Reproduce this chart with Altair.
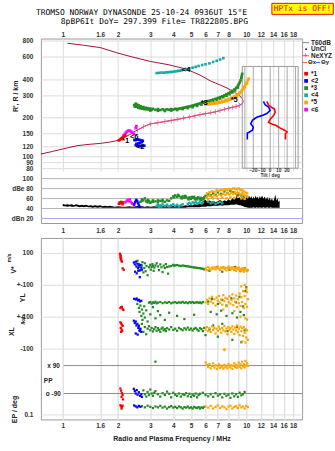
import altair as alt
import pandas as pd

# ================= tick / grid values =================
freq_labels = [1, 1.6, 2, 3, 4, 5, 6, 7, 8, 10, 12, 14, 16, 18]
freq_grid = [1, 1.6, 2, 3, 4, 5, 6, 7, 8, 9, 10, 12, 14, 16, 18]
height_ticks = [80, 90, 100, 120, 150, 200, 300, 400, 600, 800]
dbe_ticks = [20, 40, 60, 80, 100]
tilt_labels = [-20, -10, 0, 10, 20]
tilt_grid = [-30, -20, -10, 0, 10, 20, 30]
bottom_ticks = [500, 400, 300, 200, 100, 0, -100, -462.5, -512.5]
bottom_tick_text = ['100', '0', '+-100', '0', '+-100', '0', '-100', '10.', '0.1']

series_keys = ['1', '2', '3', '4', '5', '6']
series_names = ['*1', '<2', '*3', '<4', '*5', '<6']
series_colors = ['#ff0000', '#0000ff', '#228b22', '#1aa9a9', '#ffa500', '#ff00ff']

# ================= top panel: R' (km) vs frequency (MHz) =================
profile = [(0.76, 104), (0.88, 109), (1.0, 114), (1.2, 121), (1.4, 124), (1.6, 126), (1.8, 129),
           (2.0, 133), (2.1, 137), (2.2, 142), (2.3, 147), (2.4, 152), (2.5, 158), (2.65, 165),
           (2.8, 172), (3.0, 179), (3.6, 187), (4.2, 194), (4.9, 203), (5.6, 212), (6.3, 218),
           (7.0, 225), (8.0, 238), (8.6, 243), (9.2, 250), (9.5, 258), (9.62, 269), (9.5, 283),
           (9.2, 298), (8.6, 318), (7.86, 342), (7.0, 368), (6.36, 390), (5.6, 432), (4.7, 482),
           (3.8, 520), (3.0, 553), (2.44, 595), (2.0, 642), (1.6, 710), (1.3, 740), (1.06, 768)]
nexyz = [(2.55, 160), (2.75, 170), (3.0, 179), (3.3, 183), (3.6, 187), (3.9, 190), (4.2, 194),
         (4.55, 199), (4.9, 203), (5.25, 207), (5.6, 212), (6.0, 215), (6.4, 219), (6.8, 223),
         (7.2, 228), (7.6, 233), (8.0, 238), (8.4, 241), (8.8, 245), (9.2, 250)]
echo1 = [(2.02, 133), (2.05, 135), (2.08, 137), (2.1, 139), (2.13, 141), (2.16, 143), (2.19, 145)]
echo2 = [(2.46, 134), (2.5, 134), (2.54, 135), (2.58, 135), (2.63, 134), (2.68, 133), (2.73, 132),
         (2.7, 129), (2.64, 127), (2.58, 126), (2.52, 125), (2.5, 122), (2.55, 121), (2.61, 120),
         (2.67, 120), (2.73, 120), (2.78, 121)]
echo3 = [(2.45, 252), (2.47, 245), (2.5, 258), (2.52, 244), (2.55, 253), (2.58, 240), (2.6, 250),
         (2.63, 238), (2.66, 246), (2.7, 236), (2.74, 243), (2.78, 234), (2.82, 240), (2.86, 233),
         (2.9, 238), (2.95, 232), (3.0, 236), (3.05, 231), (3.1, 235), (3.2, 231), (3.3, 234),
         (3.4, 230), (3.5, 233), (3.6, 230), (3.7, 233), (3.8, 231), (3.9, 234), (4.0, 232),
         (4.1, 235), (4.2, 234), (4.3, 236), (4.4, 237), (4.5, 239), (4.6, 240), (4.7, 242),
         (4.8, 244), (4.9, 245), (5.0, 247), (5.1, 249), (5.2, 251), (5.3, 253), (5.4, 255),
         (5.5, 257), (5.6, 259), (5.7, 261), (5.8, 263), (5.9, 265), (6.0, 267), (6.2, 271),
         (6.4, 274), (6.6, 278), (6.8, 282), (7.0, 286), (7.2, 290), (7.4, 295), (7.6, 300),
         (7.8, 306), (8.0, 312), (8.2, 318), (8.4, 325), (8.6, 333), (8.8, 343), (9.0, 356),
         (9.1, 366), (9.2, 378), (9.3, 392), (9.4, 410), (9.45, 425), (9.5, 442),
         (3.0, 228), (3.3, 227), (3.6, 226), (3.9, 228), (4.2, 230), (4.5, 234), (4.8, 238),
         (5.1, 242), (5.4, 248), (5.7, 254), (6.0, 260), (6.3, 265), (6.6, 271), (6.9, 276),
         (7.2, 283), (7.5, 290), (7.8, 298), (8.1, 306), (8.4, 316), (8.7, 328), (9.0, 345)]
echo4 = [(3.25, 448), (3.35, 450), (3.45, 452), (3.55, 451), (3.65, 454), (3.75, 455), (3.85, 457),
         (3.95, 458), (4.05, 461), (4.15, 463), (4.25, 466), (4.35, 468), (4.45, 472), (4.6, 477),
         (4.75, 482), (4.9, 488), (5.1, 494), (5.3, 501), (5.5, 509), (5.75, 518), (6.0, 525),
         (6.3, 534), (6.6, 548), (6.9, 560), (7.2, 572), (7.5, 586)]
echo5 = [(6.0, 254), (6.15, 255), (6.3, 256), (6.45, 257), (6.6, 258), (6.75, 259), (6.9, 260),
         (7.05, 262), (7.2, 263), (7.35, 265), (7.5, 267), (7.65, 269), (7.8, 271), (7.95, 274),
         (8.1, 277), (8.25, 280), (8.4, 283), (8.55, 287), (8.7, 291), (8.85, 296), (9.0, 302),
         (9.15, 309), (9.3, 317), (9.45, 326), (9.6, 337), (9.75, 350), (9.9, 364), (10.05, 379),
         (10.2, 394), (10.3, 405),
         (6.2, 260), (6.5, 262), (6.8, 265), (7.1, 268), (7.4, 272), (7.7, 276), (8.0, 281),
         (8.3, 287), (8.6, 294), (8.9, 303), (9.2, 315), (9.5, 330), (9.8, 348), (10.1, 372)]
echo6 = [(2.15, 146), (2.18, 149), (2.21, 153), (2.24, 156), (2.27, 158), (2.3, 159), (2.33, 158),
         (2.36, 156), (2.4, 153), (2.44, 150), (2.5, 166), (2.52, 172)]
trace_labels = [(2.2, 132, '*1'), (2.64, 119, '<2'), (5.9, 260, '*3'), (4.7, 470, '<4'),
                (8.6, 275, '*5'), (2.45, 141, '<6')]

# tilt inset: tilt (deg) vs height (km)
tilt_x = [(-4, 269), (-2, 253), (1, 243), (5, 234), (6, 221), (4, 208), (0, 195), (-2, 184),
          (2, 179), (7, 174), (12, 166), (17, 160), (20, 155), (18, 150), (18, 135)]
tilt_y = [(-8, 269), (-6, 253), (-2, 243), (0, 229), (-4, 216), (-10, 208), (-16, 202), (-21, 191),
          (-23, 180), (-20, 169), (-21, 160), (-25, 154), (-27, 152), (-27, 135)]

# ================= amplitude panel (dB) =================
noise = [(1.00, 44, 49), (1.03, 44, 47), (1.06, 43, 48), (1.09, 44, 47), (1.12, 43, 48), (1.15, 43, 46),
         (1.18, 44, 48), (1.21, 43, 47), (1.24, 42, 46), (1.27, 43, 47), (1.30, 42, 46), (1.34, 43, 47),
         (1.38, 42, 45), (1.42, 42, 46), (1.46, 41, 45), (1.50, 42, 46), (1.55, 41, 45), (1.60, 42, 46),
         (1.65, 41, 44), (1.70, 41, 45), (1.75, 41, 44), (1.80, 41, 45), (1.86, 41, 44), (1.92, 41, 43),
         (2.00, 41, 44), (2.10, 41, 43), (2.20, 41, 43), (2.30, 41, 44), (2.40, 41, 43), (2.50, 41, 44),
         (2.60, 41, 45), (2.70, 41, 44), (2.80, 41, 43), (2.90, 41, 44), (3.00, 41, 43), (3.15, 41, 44),
         (3.30, 41, 43), (3.45, 41, 44), (3.60, 41, 45), (3.75, 41, 43), (3.90, 41, 44), (4.05, 41, 45),
         (4.20, 41, 44), (4.35, 41, 45), (4.50, 41, 44), (4.65, 41, 46), (4.80, 42, 45), (4.95, 42, 47),
         (5.10, 42, 46), (5.25, 42, 48), (5.40, 42, 47), (5.55, 42, 49), (5.70, 43, 48), (5.85, 43, 55),
         (6.00, 43, 57), (6.15, 44, 52), (6.30, 44, 56), (6.45, 44, 53), (6.60, 45, 55), (6.80, 45, 52),
         (7.00, 45, 54), (7.20, 46, 57), (7.40, 45, 53), (7.60, 46, 56), (7.80, 46, 54), (8.00, 46, 58),
         (8.20, 47, 55), (8.40, 47, 60), (8.60, 47, 57), (8.80, 48, 62), (9.00, 47, 75), (9.15, 46, 62),
         (9.30, 46, 60), (9.45, 45, 64), (9.60, 44, 58), (9.75, 43, 66), (9.90, 42, 59), (10.05, 42, 65),
         (10.20, 41, 58), (10.35, 41, 66), (10.50, 41, 60), (10.65, 41, 65), (10.80, 41, 58),
         (10.95, 42, 64), (11.10, 41, 59), (11.25, 41, 66), (11.40, 42, 60), (11.55, 41, 64),
         (11.70, 41, 58), (11.85, 42, 65), (12.00, 41, 60), (12.20, 41, 66), (12.40, 42, 59),
         (12.60, 41, 64), (12.80, 41, 57), (13.00, 42, 63), (13.20, 41, 56), (13.40, 41, 62),
         (13.60, 42, 55), (13.80, 41, 60), (14.00, 41, 54), (14.20, 41, 58), (14.40, 41, 68),
         (14.60, 41, 55), (14.80, 41, 60), (15.00, 41, 52), (15.20, 41, 56)]
amp1 = [(2.02, 49), (2.04, 52), (2.06, 50), (2.08, 53), (2.1, 51), (2.12, 48), (2.14, 52)]
amp2 = [(2.45, 48), (2.48, 52), (2.5, 55), (2.52, 57), (2.55, 54), (2.58, 50), (2.6, 46), (2.62, 43)]
amp3 = [(2.65, 53), (2.7, 58), (2.75, 56), (2.8, 60), (2.85, 54), (2.9, 52), (2.95, 55), (3.0, 51),
        (3.05, 53), (3.1, 56), (3.2, 54), (3.3, 52), (3.4, 55), (3.5, 57), (3.6, 53), (3.7, 56),
        (3.8, 55), (3.9, 60), (4.0, 64), (4.1, 66), (4.2, 63), (4.3, 65), (4.4, 62), (4.5, 64),
        (4.6, 61), (4.7, 63), (4.8, 60), (4.9, 62), (5.0, 59), (5.1, 61), (5.2, 63), (5.3, 60),
        (5.4, 58), (5.5, 61), (5.6, 59), (5.7, 57), (5.8, 60), (5.9, 62), (6.0, 65), (6.2, 68),
        (6.4, 66), (6.6, 70), (6.8, 67), (7.0, 72), (7.3, 69), (7.6, 74), (7.9, 71), (8.2, 75),
        (8.5, 72), (8.8, 70), (9.1, 68), (9.4, 66), (9.7, 64),
        (2.7, 55), (2.9, 57), (3.1, 53), (3.3, 56), (3.5, 54), (4.05, 62), (4.25, 67), (4.45, 60),
        (4.65, 65), (4.85, 58), (5.05, 63), (5.25, 58), (5.45, 62), (5.65, 61), (5.85, 58)]
amp4 = [(3.25, 45), (3.3, 47), (3.35, 43), (3.4, 46), (3.45, 44), (3.5, 48), (3.6, 45), (3.7, 47),
        (3.8, 44), (3.9, 46), (4.0, 48), (4.1, 45), (4.2, 47), (4.3, 44), (4.4, 46), (4.5, 48),
        (4.8, 49), (4.9, 51), (5.0, 48), (5.1, 52), (5.2, 50), (5.3, 53), (5.4, 49), (5.5, 51),
        (5.6, 54), (5.7, 50), (5.8, 52), (6.2, 53), (6.4, 50), (6.6, 52), (6.8, 49), (7.0, 51),
        (7.2, 53), (7.4, 50)]
amp5 = [(6.1, 70), (6.3, 72), (6.5, 74), (6.7, 73), (6.9, 76), (7.1, 75), (7.3, 77), (7.5, 76),
        (7.7, 78), (7.9, 77), (8.1, 79), (8.3, 78), (8.5, 80), (8.7, 79), (8.9, 78), (9.1, 80),
        (9.3, 77), (9.5, 76), (9.7, 74), (9.9, 72), (10.1, 70),
        (6.1, 62), (6.3, 65), (6.5, 63), (6.7, 66), (6.9, 64), (7.1, 68), (7.3, 66), (7.5, 69),
        (7.7, 67), (7.9, 70), (8.1, 68), (8.3, 71), (8.5, 69), (8.7, 72), (8.9, 70), (9.1, 71),
        (9.3, 68), (9.5, 70), (9.7, 67), (9.9, 65), (10.1, 64),
        (6.2, 58), (6.6, 60), (7.0, 59), (7.4, 61), (7.8, 60), (8.2, 62), (8.6, 61), (9.0, 63),
        (9.4, 60), (9.8, 59)]
amp6 = [(2.2, 52), (2.23, 55), (2.26, 57), (2.29, 54), (2.32, 58), (2.35, 53), (2.38, 50),
        (2.41, 49), (2.44, 47)]

# ================= lower panel =================
# V* (m/s)
vs_red = [(2.05, 95), (2.06, 88), (2.07, 80), (2.06, 72), (2.08, 66), (2.07, 58), (2.09, 52),
          (2.1, 45), (2.12, 3), (2.15, -6)]
vs_blue = [(2.44, 40), (2.47, 28), (2.5, 45), (2.52, 15), (2.55, 32), (2.57, 5), (2.6, 20),
           (2.62, -10), (2.65, 25), (2.68, 8), (2.7, -5), (2.48, -18), (2.53, -28), (2.58, -12),
           (2.63, -52)]
vs_green = [(2.55, 50), (2.6, 30), (2.63, 12), (2.66, -8), (2.7, 22), (2.72, 42), (2.75, -22),
            (2.78, 5), (2.8, 35), (2.83, -15), (2.86, 18), (2.9, -40), (2.95, 10), (3.0, 25),
            (3.02, -5), (3.05, 12), (3.08, 30), (3.1, 18), (3.13, -12), (3.16, 8), (3.2, 22),
            (3.25, 35), (3.3, 15), (3.35, -8), (3.4, 28), (3.45, 10), (3.5, -20), (3.55, 20),
            (3.6, 5), (3.65, 30), (3.7, 12), (3.75, -30), (3.8, 15), (3.9, 18), (4.0, 25),
            (4.05, 20), (4.1, 22), (4.2, 24), (4.3, 20), (4.4, 18), (4.5, 21), (4.6, 19), (4.7, 17),
            (4.8, 16), (4.9, 14), (5.0, 12), (5.1, 10), (5.2, 9), (5.3, 8), (5.4, 6), (5.5, 5),
            (5.6, 4), (5.7, 2), (5.8, 0), (5.9, -3), (6.3, -12), (6.9, 10), (7.4, -18), (8.1, -6),
            (8.7, 12), (9.3, -14), (9.8, 5)]
vs_orange = [(6.0, 5), (6.1, -8), (6.2, 12), (6.3, 2), (6.4, -5), (6.5, 8), (6.6, 0), (6.7, 10),
             (6.8, -3), (6.9, 6), (7.0, 15), (7.1, 2), (7.2, -6), (7.3, 9), (7.4, 4), (7.5, 12),
             (7.6, -2), (7.7, 7), (7.8, -10), (7.9, 3), (8.0, 14), (8.1, 5), (8.2, -4), (8.3, 9),
             (8.4, 1), (8.5, 11), (8.6, -7), (8.7, 4), (8.8, -12), (8.9, 6), (9.0, -2), (9.1, 8),
             (9.2, -9), (9.3, 0), (9.4, -14), (9.5, 3), (9.6, -6), (9.7, -18), (9.8, 2), (9.9, -10),
             (10.0, -4), (10.1, -15), (10.2, -8)]
# YL (km)
yl_red = [(2.06, -45), (2.08, -40), (2.1, -38), (2.12, -52), (2.14, -58)]
yl_blue = [(2.45, 12), (2.5, 8), (2.53, 14), (2.57, 2), (2.6, 6), (2.64, -4), (2.68, 0)]
yl_green = [(2.95, -12), (3.0, -8), (3.05, -18), (3.1, -10), (3.15, -14), (3.2, -6), (3.25, -16),
            (3.3, -12), (3.4, -8), (3.5, -15), (3.6, -10), (3.7, -13), (3.8, -8), (3.9, -16),
            (4.0, -11), (4.1, -9), (4.2, -14), (4.3, -10), (4.4, -12), (4.5, -7), (4.6, -13),
            (4.7, -10), (4.8, -15), (4.9, -9), (5.0, -12), (5.1, -8), (5.2, -14), (5.3, -11),
            (5.4, -9), (5.5, -13), (5.6, -10), (5.7, -15), (5.8, -8),
            (2.55, -20), (2.6, -45), (2.62, -70), (2.65, -30), (2.68, -95), (2.7, -55), (2.72, -120),
            (2.75, -80), (2.78, -35), (2.8, -105), (2.85, -60), (2.9, -130), (3.0, -85), (3.1, -40),
            (3.2, -110), (3.3, -65), (3.4, -90), (3.6, -120), (3.8, -75), (4.2, -95), (4.6, -115),
            (5.2, -88), (6.2, -5), (6.5, 10), (7.0, -20), (7.4, 5), (7.8, -30), (8.3, 15), (8.8, -10),
            (9.2, 25), (9.6, -35), (6.4, -70), (6.9, -85), (7.3, -62), (7.8, -95), (8.4, -78),
            (8.9, -105), (9.3, -70), (9.7, -90), (9.9, 60), (10.0, 85)]
yl_orange = [(6.0, -10), (6.1, 5), (6.2, -20), (6.3, 15), (6.4, -5), (6.5, 25), (6.6, -15), (6.7, 10),
             (6.8, -30), (6.9, 20), (7.0, 0), (7.1, 30), (7.2, -12), (7.3, 8), (7.4, -25), (7.5, 35),
             (7.6, -3), (7.7, 18), (7.8, -35), (7.9, 12), (8.0, -8), (8.1, 28), (8.2, -18), (8.3, 5),
             (8.4, 40), (8.5, -28), (8.6, 15), (8.7, -6), (8.8, 32), (8.9, -40), (9.0, 10), (9.1, -15),
             (9.2, 45), (9.3, -32), (9.4, 22), (9.5, -8), (9.6, 60), (9.7, -45), (9.8, 30), (9.9, -20),
             (10.0, 75), (10.1, -38), (10.2, 10), (9.4, 90), (9.8, 100), (10.1, 55), (7.5, -55),
             (8.6, -65), (9.3, -100), (9.9, -110), (10.1, -118)]
# XL (km)
xl_red = [(2.06, 65), (2.08, 58), (2.1, 50), (2.12, 42), (2.07, 30), (2.09, 20), (2.11, 12), (2.08, 5)]
xl_blue = [(2.44, 75), (2.47, 60), (2.5, 70), (2.52, 45), (2.55, 55), (2.58, 30), (2.6, 40),
           (2.62, 15), (2.65, 25), (2.68, 5), (2.5, -5), (2.56, -12), (2.63, 10)]
xl_green = [(2.6, 45), (2.65, 20), (2.7, 55), (2.75, 5), (2.8, 35), (2.85, -10), (2.9, 25), (2.95, 40),
            (3.0, 15), (3.05, 30), (3.1, 8), (3.15, 22), (3.2, 35), (3.25, 12), (3.3, 28), (3.35, 18),
            (3.4, 5), (3.45, 25), (3.5, 32), (3.55, 15), (3.6, 22), (3.65, 10), (3.7, 28), (3.8, 20),
            (3.9, 35), (4.0, 18), (4.1, 25), (4.2, 12), (4.3, 30), (4.4, 22), (4.5, 15), (4.6, 28),
            (4.7, 20), (4.8, 32), (4.9, 18), (5.0, 26), (5.1, 14), (5.2, 24), (5.3, 30), (5.4, 20),
            (5.5, 12), (5.6, 28), (5.7, 22), (5.8, 10), (5.9, 30), (6.0, -15), (6.3, 20), (6.6, 45),
            (7.0, -25), (7.4, 55), (7.9, 10), (8.4, -45), (8.9, 35), (9.4, -60), (9.8, 15)]
xl_orange = [(6.0, 20), (6.1, 35), (6.2, 10), (6.3, 28), (6.4, 5), (6.5, 40), (6.6, 18), (6.7, 30),
             (6.8, -5), (6.9, 25), (7.0, 12), (7.1, 38), (7.2, 22), (7.3, 0), (7.4, 30), (7.5, 15),
             (7.6, 42), (7.7, 8), (7.8, 26), (7.9, -10), (8.0, 35), (8.1, 18), (8.2, 28), (8.3, 5),
             (8.4, 40), (8.5, 20), (8.6, -8), (8.7, 32), (8.8, 14), (8.9, 45), (9.0, 2), (9.1, 25),
             (9.2, -15), (9.3, 38), (9.4, 10), (9.5, 28), (9.6, -20), (9.7, 35), (9.8, 0), (9.9, 22),
             (10.0, -30), (10.1, 15), (10.2, -45), (9.5, -55), (9.9, -62), (7.6, -105)]
# PP (deg)
pp_red = [(2.06, -58), (2.08, -72), (2.1, -88), (2.12, -100), (2.09, -112), (2.13, -128)]
pp_blue = [(2.44, -60), (2.47, -75), (2.5, -90), (2.53, -68), (2.56, -98), (2.6, -82), (2.64, -105),
           (2.68, -95), (2.7, -112)]
pp_green = [(2.75, -70), (2.8, -95), (2.85, -110), (2.9, -80), (2.95, -100), (3.0, -65), (3.05, -90),
            (3.1, -105), (3.15, -85), (3.2, -75), (3.3, -95), (3.4, -110), (3.5, -88), (3.6, -100),
            (3.7, -78), (3.8, -92), (3.9, -115), (4.0, -85), (4.1, -98), (4.2, -105), (4.3, -90),
            (4.4, -110), (4.5, -95), (4.6, -100), (4.7, -88), (4.8, -108), (4.9, -92), (5.0, -112),
            (5.1, -98), (5.2, -105), (5.3, -90), (5.4, -115), (5.5, -100), (5.6, -92), (5.8, -85),
            (6.0, -100), (6.2, -108), (6.4, -95), (6.6, -112), (6.8, -88), (7.0, -104), (7.2, -96),
            (7.4, -115), (7.6, -92), (7.8, -105), (8.0, -98), (8.2, -118), (8.4, -90), (8.6, -108),
            (8.8, -95), (9.0, -112), (9.2, -85), (9.4, -102), (9.6, -95), (9.8, -80), (3.2, 115)]
pp_orange = [(6.0, 110), (6.1, 95), (6.2, 80), (6.3, 100), (6.4, 72), (6.5, 88), (6.6, 105), (6.7, 78),
             (6.8, 92), (6.9, 68), (7.0, 85), (7.1, 98), (7.2, 75), (7.3, 90), (7.4, 82), (7.5, 70),
             (7.6, 95), (7.7, 80), (7.8, 88), (7.9, 72), (8.0, 100), (8.1, 85), (8.2, 78), (8.3, 92),
             (8.4, 68), (8.5, 88), (8.6, 105), (8.7, 80), (8.8, 95), (8.9, 75), (9.0, 90), (9.1, 110),
             (9.2, 82), (9.3, 98), (9.4, 72), (9.5, 115), (9.6, 85), (9.7, 100), (9.8, 78), (9.9, 120),
             (10.0, 92), (10.1, 105), (10.2, 88), (7.6, 190)]
# EP (deg)
ep_red = [(2.06, 20), (2.08, 12), (2.1, 6), (2.12, 15), (2.09, 3)]
ep_blue = [(2.45, 18), (2.5, 10), (2.55, 6), (2.6, 14), (2.65, 8)]
ep_green = [(2.7, 12), (2.8, 6), (2.9, 15), (3.0, 8), (3.1, 4), (3.2, 10), (3.3, 6), (3.4, 14), (3.5, 5),
            (3.6, 9), (3.7, 3), (3.8, 7), (3.9, 12), (4.0, 5), (4.1, 8), (4.2, 4), (4.3, 10), (4.4, 6),
            (4.5, 3), (4.6, 7), (4.7, 5), (4.8, 9), (4.9, 4), (5.0, 6), (5.1, 3), (5.2, 8), (5.3, 5),
            (5.4, 4), (5.5, 7), (5.6, 3), (5.7, 6), (5.8, 4), (5.9, 8)]
ep_orange = [(6.0, 10), (6.2, 5), (6.4, 14), (6.6, 3), (6.8, 8), (7.0, 18), (7.2, 4), (7.4, 11),
             (7.6, 6), (7.8, 2), (8.0, 9), (8.2, 15), (8.4, 3), (8.6, 7), (8.8, 12), (9.0, 4),
             (9.2, 20), (9.4, 6), (9.6, 10), (9.8, 3), (10.0, 14), (10.2, 7)]

# ================= layout constants =================
W = 262
H_TOP = 133
H_AB = 185
H_BOT = 182
F_DOM = [0.76, 20.15]
LABEL_FONT = 'Liberation Sans'
MONO = 'DejaVu Sans Mono'
MAROON = '#a3123f'
PINK = '#e2558a'

SX = alt.Scale(type='log', domain=F_DOM, range=[0, W])
SY_R = alt.Scale(type='log', domain=[76.4, 835.5], range=[H_TOP, 0])
SY_DB = alt.Scale(domain=[10.6, 114.6], range=[H_AB, H_TOP])
SX_T = alt.Scale(domain=[-33, 33], range=[202, 258])
SY_U = alt.Scale(domain=[-543.75, 593.75], range=[H_BOT, 0])
SC = alt.Scale(domain=series_keys, range=series_colors)

one = pd.DataFrame({'k': [0]})


def pairs_df(pairs, cols=('f', 'v')):
    return pd.DataFrame(pairs, columns=list(cols))


def echo_df(groups, col):
    frames = []
    for key, pairs in groups:
        d = pd.DataFrame(pairs, columns=['f', col])
        d['c'] = key
        frames.append(d)
    return pd.concat(frames, ignore_index=True)


fq_label_expr = "datum.value == 9 ? '' : datum.label"
AX_TOP = alt.Axis(orient='top', values=freq_grid, labelExpr=fq_label_expr, grid=True, title=None,
                  labelPadding=1.5, labelOverlap=False, labelFlush=False, format='~g')
AX_R = alt.Axis(orient='left', values=height_ticks, grid=True, title=None, labelPadding=8,
                labelOverlap=False, format='d')
AX_DBX = alt.Axis(orient='bottom', values=freq_labels, grid=False, title=None, labelPadding=5,
                  labelOverlap=False, labelFlush=False, format='~g')
AX_DBY = alt.Axis(orient='left', values=dbe_ticks, grid=True, title=None, labelPadding=8,
                  labelOverlap=False,
                  gridColor={'condition': {'test': 'datum.value == 20', 'value': '#a9a9e6'},
                             'value': '#b4b4b4'},
                  labelExpr="datum.value == 80 ? 'dBe 80' : datum.value == 20 ? 'dBn 20' : datum.label")

# ---------- upper block (ionogram + amplitudes), independent scales per layer ----------
prof_df = pairs_df(profile, ('f', 'h'))
prof_df['i'] = range(len(prof_df))
L_profile = alt.Chart(prof_df).mark_line(color=MAROON, strokeWidth=1).encode(
    x=alt.X('f:Q', scale=SX, axis=AX_TOP), y=alt.Y('h:Q', scale=SY_R, axis=AX_R), order='i:Q')

L_noise = alt.Chart(pd.DataFrame(noise, columns=['f', 'lo', 'hi'])).mark_area(
    color='black', opacity=1).encode(
    x=alt.X('f:Q', scale=SX, axis=AX_DBX), y=alt.Y('lo:Q', scale=SY_DB, axis=AX_DBY), y2='hi:Q')

nex_df = pairs_df(nexyz, ('f', 'h'))
L_nex = alt.Chart(nex_df).mark_line(color=PINK, strokeWidth=1).encode(
    x=alt.X('f:Q', scale=SX, axis=None), y=alt.Y('h:Q', scale=SY_R, axis=None))
L_nex_t = alt.Chart(nex_df).mark_tick(color=PINK, orient='vertical', size=5, thickness=1).encode(
    x=alt.X('f:Q', scale=SX, axis=None), y=alt.Y('h:Q', scale=SY_R, axis=None))

echo_all = echo_df([('4', echo4), ('3', echo3), ('5', echo5), ('6', echo6), ('1', echo1), ('2', echo2)], 'h')
L_echo = alt.Chart(echo_all).mark_square(size=7, opacity=1).encode(
    x=alt.X('f:Q', scale=SX, axis=None), y=alt.Y('h:Q', scale=SY_R, axis=None),
    color=alt.Color('c:N', scale=SC, legend=None))

L_tl = alt.Chart(pd.DataFrame(trace_labels, columns=['f', 'h', 't'])).mark_text(
    font=LABEL_FONT, fontSize=7.5, fontWeight='bold', color='black').encode(
    x=alt.X('f:Q', scale=SX, axis=None), y=alt.Y('h:Q', scale=SY_R, axis=None), text='t:N')

amp_all = echo_df([('4', amp4), ('3', amp3), ('5', amp5), ('1', amp1), ('6', amp6), ('2', amp2)], 'db')
L_amp = alt.Chart(amp_all).mark_square(size=6, opacity=1).encode(
    x=alt.X('f:Q', scale=SX, axis=None), y=alt.Y('db:Q', scale=SY_DB, axis=None),
    color=alt.Color('c:N', scale=SC, legend=None))

# tilt inset
box_df = pd.DataFrame({'t0': [-33], 't1': [33], 'r0': [80.6], 'r1': [505]})
L_box = alt.Chart(box_df).mark_rect(fillOpacity=0, stroke='#9a9a9a', strokeWidth=1).encode(
    x=alt.X('t0:Q', scale=SX_T, axis=None), x2='t1:Q',
    y=alt.Y('r0:Q', scale=SY_R, axis=None), y2='r1:Q')
tg_df = pd.DataFrame({'t': tilt_grid, 'r0': 80.6, 'r1': 505})
L_tgrid = alt.Chart(tg_df).mark_rule(color='#a8a8a8', strokeWidth=1).encode(
    x=alt.X('t:Q', scale=SX_T, axis=None), y=alt.Y('r0:Q', scale=SY_R, axis=None), y2='r1:Q')
tx_df = pairs_df(tilt_x, ('t', 'h'))
tx_df['i'] = range(len(tx_df))
ty_df = pairs_df(tilt_y, ('t', 'h'))
ty_df['i'] = range(len(ty_df))
L_tx = alt.Chart(tx_df).mark_line(color='#ff0000', strokeWidth=1.6).encode(
    x=alt.X('t:Q', scale=SX_T, axis=None), y=alt.Y('h:Q', scale=SY_R, axis=None), order='i:Q')
L_ty = alt.Chart(ty_df).mark_line(color='#0000ff', strokeWidth=1.6).encode(
    x=alt.X('t:Q', scale=SX_T, axis=None), y=alt.Y('h:Q', scale=SY_R, axis=None), order='i:Q')
L_tlab = alt.Chart(pd.DataFrame({'t': tilt_labels})).mark_text(
    font=LABEL_FONT, fontSize=4.8, fontWeight='bold', color='#333333', baseline='middle').encode(
    x=alt.X('t:Q', scale=SX_T, axis=None), y=alt.value(132.8), text='t:Q')
L_ttitle = alt.Chart(one).mark_text(font=LABEL_FONT, fontSize=4.8, fontWeight='bold', color='#333333',
                                    baseline='middle').encode(
    x=alt.value(230), y=alt.value(138.2), text=alt.value('Tilt / deg'))

# legend
leg_df = pd.DataFrame({'c': series_keys, 'name': series_names})
leg_y = alt.Y('c:N', scale=alt.Scale(type='point', range=[35.3, 71.3], padding=0), axis=None)
L_leg_sq = alt.Chart(leg_df).mark_square(size=14, opacity=1).encode(
    x=alt.value(266), y=leg_y, color=alt.Color('c:N', scale=SC, legend=None))
L_leg_tx = alt.Chart(leg_df).mark_text(font=LABEL_FONT, fontSize=6.5, fontWeight='bold', color='#222222',
                                        align='left', baseline='middle').encode(
    x=alt.value(271), y=leg_y, text='name:N')


def txt(s, x, y, size=6.5, color='#222222', align='left', angle=0, font=LABEL_FONT, weight='bold'):
    kw = dict(font=font, fontSize=size, fontWeight=weight, color=color, align=align, baseline='middle')
    if angle:
        kw['angle'] = angle
    return alt.Chart(one).mark_text(**kw).encode(x=alt.value(x), y=alt.value(y), text=alt.value(s))


def seg(x1, x2, y, color, width=1):
    return alt.Chart(one).mark_rule(color=color, strokeWidth=width).encode(
        x=alt.value(x1), x2=alt.value(x2), y=alt.value(y))


legend_top = [
    seg(262, 269, 4, '#9a9a9a', 1.2), txt('T60dB', 271, 4),
    alt.Chart(one).mark_circle(size=3, color='black', opacity=1).encode(x=alt.value(266), y=alt.value(10.7)),
    txt('UnCl', 271, 10.7),
    seg(262, 269, 17.3, PINK, 1), txt('+', 265.5, 17.3, size=7, color=PINK, align='center'),
    txt('NeXYZ', 271, 17.3),
    seg(262, 267, 24, '#ff5555', 1), txt('\u0398x', 268, 24, size=6),
    seg(276, 280, 24, '#5555ff', 1), txt('\u0398y', 281, 24, size=6),
]

# titles / annotation
anchor = alt.Chart(one).mark_rule(opacity=0, strokeWidth=1).encode(
    x=alt.value(-40), x2=alt.value(-39), y=alt.value(-37))
hptx_box = alt.Chart(one).mark_rect(fill='#ffff00', stroke='#ff0000', strokeWidth=1).encode(
    x=alt.value(231.7), x2=alt.value(293.3), y=alt.value(-35.3), y2=alt.value(-24.3))
header = [
    anchor, hptx_box,
    txt('HPTx is OFF!', 262.5, -29.6, size=8, color='#ff0000', align='center', font=MONO, weight='normal'),
    txt('TROMSO NORWAY   DYNASONDE 25-10-24 0936UT 15\u00b0E', -5, -26.0, size=8, color='black',
        font=MONO, weight='normal'),
    txt('8pBP6It DoY= 297.399 File= TR822805.BPG', 20, -16.4, size=8, color='black', font=MONO,
        weight='normal'),
    txt("R', R / km", -25, 58, size=7, align='center', angle=270),
]

upper = alt.layer(
    L_profile, L_noise, L_box, L_tgrid, L_nex, L_nex_t, L_echo, L_tl, L_amp, L_tx, L_ty,
    L_tlab, L_ttitle, L_leg_sq, L_leg_tx, *legend_top, *header
).resolve_scale(x='independent', y='independent').properties(width=W, height=H_AB)

# ---------- lower block ----------
bot_groups = []
for band, groups in [('V', [('3', vs_green), ('5', vs_orange), ('1', vs_red), ('2', vs_blue)]),
                     ('YL', [('3', yl_green), ('5', yl_orange), ('1', yl_red), ('2', yl_blue)]),
                     ('XL', [('3', xl_green), ('5', xl_orange), ('1', xl_red), ('2', xl_blue)]),
                     ('PP', [('3', pp_green), ('5', pp_orange), ('1', pp_red), ('2', pp_blue)]),
                     ('EP', [('3', ep_green), ('5', ep_orange), ('1', ep_red), ('2', ep_blue)])]:
    for key, pairs in groups:
        d = pd.DataFrame(pairs, columns=['f', 'val'])
        d['c'] = key
        d['band'] = band
        bot_groups.append(d)
bot_df = pd.concat(bot_groups, ignore_index=True)

U_EXPR = ("datum.band == 'V' ? 400 + datum.val : datum.band == 'YL' ? 200 + datum.val : "
          "datum.band == 'XL' ? datum.val : datum.band == 'PP' ? -293.75 + datum.val * 87.5 / 90 : "
          "-462.5 + 25 * log(datum.val / 10) / LN10")
u_label_expr = ''.join("datum.value == %s ? '%s' : " % (v, t) for v, t in zip(bottom_ticks, bottom_tick_text)) + "''"

AX_BX = alt.Axis(orient='bottom', values=freq_grid, labelExpr=fq_label_expr, grid=True,
                 title='Radio and Plasma Frequency / MHz', titleFont=LABEL_FONT, titleFontSize=7,
                 titleFontWeight='bold', titleColor='#222222', titlePadding=6, labelPadding=3,
                 labelOverlap=False, labelFlush=False, format='~g', gridColor='#e2e2e2', gridWidth=1.5)
AX_BY = alt.Axis(orient='left', values=bottom_ticks, labelExpr=u_label_expr, grid=True, title=None,
                 labelPadding=8, labelOverlap=False, gridColor='#dedede')

D_pts = alt.Chart(bot_df).transform_calculate(U=U_EXPR).mark_square(size=5, opacity=1).encode(
    x=alt.X('f:Q', scale=SX, axis=AX_BX), y=alt.Y('U:Q', scale=SY_U, axis=AX_BY),
    color=alt.Color('c:N', scale=SC, legend=None))
pp_lines = pd.DataFrame({'band': ['PP', 'PP'], 'val': [90, -90], 'f0': [1.012, 1.012], 'f1': [20.15, 20.15]})
D_pp = alt.Chart(pp_lines).transform_calculate(U=U_EXPR).mark_rule(color='#8c8c8c', strokeWidth=1).encode(
    x=alt.X('f0:Q', scale=SX), x2='f1:Q', y=alt.Y('U:Q', scale=SY_U))

lower_text = [
    txt('x 90', 6.5, 128, size=6.5), txt('PP', 3, 143, size=6.5), txt('o -90', 5, 156.3, size=6.5),
    txt('V*', -27, 32, size=7, align='center', angle=270),
    txt('m/s', -31.5, 20, size=5, align='center', angle=270),
    txt('YL', -17.5, 60, size=7, align='center', angle=270),
    txt('/km', -17.5, 82, size=5.5, align='center', angle=270),
    txt('XL', -29, 94, size=7, align='center', angle=270),
    txt('EP / deg', -26, 172, size=7, align='center', angle=270),
]

lower = alt.layer(D_pp, D_pts, *lower_text).properties(width=W, height=H_BOT)

chart = alt.vconcat(upper, lower, spacing=15, bounds='flush').properties(
    padding=0, background='white'
).configure_view(stroke='#9a9a9a', strokeWidth=1).configure_axis(
    labelFont=LABEL_FONT, labelFontSize=6.5, labelFontWeight='bold', labelColor='#333333',
    ticks=False, domain=False, gridColor='#dcdcdc', gridWidth=1
)

chart.save('out.html', embed_options={'renderer': 'svg', 'actions': False})
